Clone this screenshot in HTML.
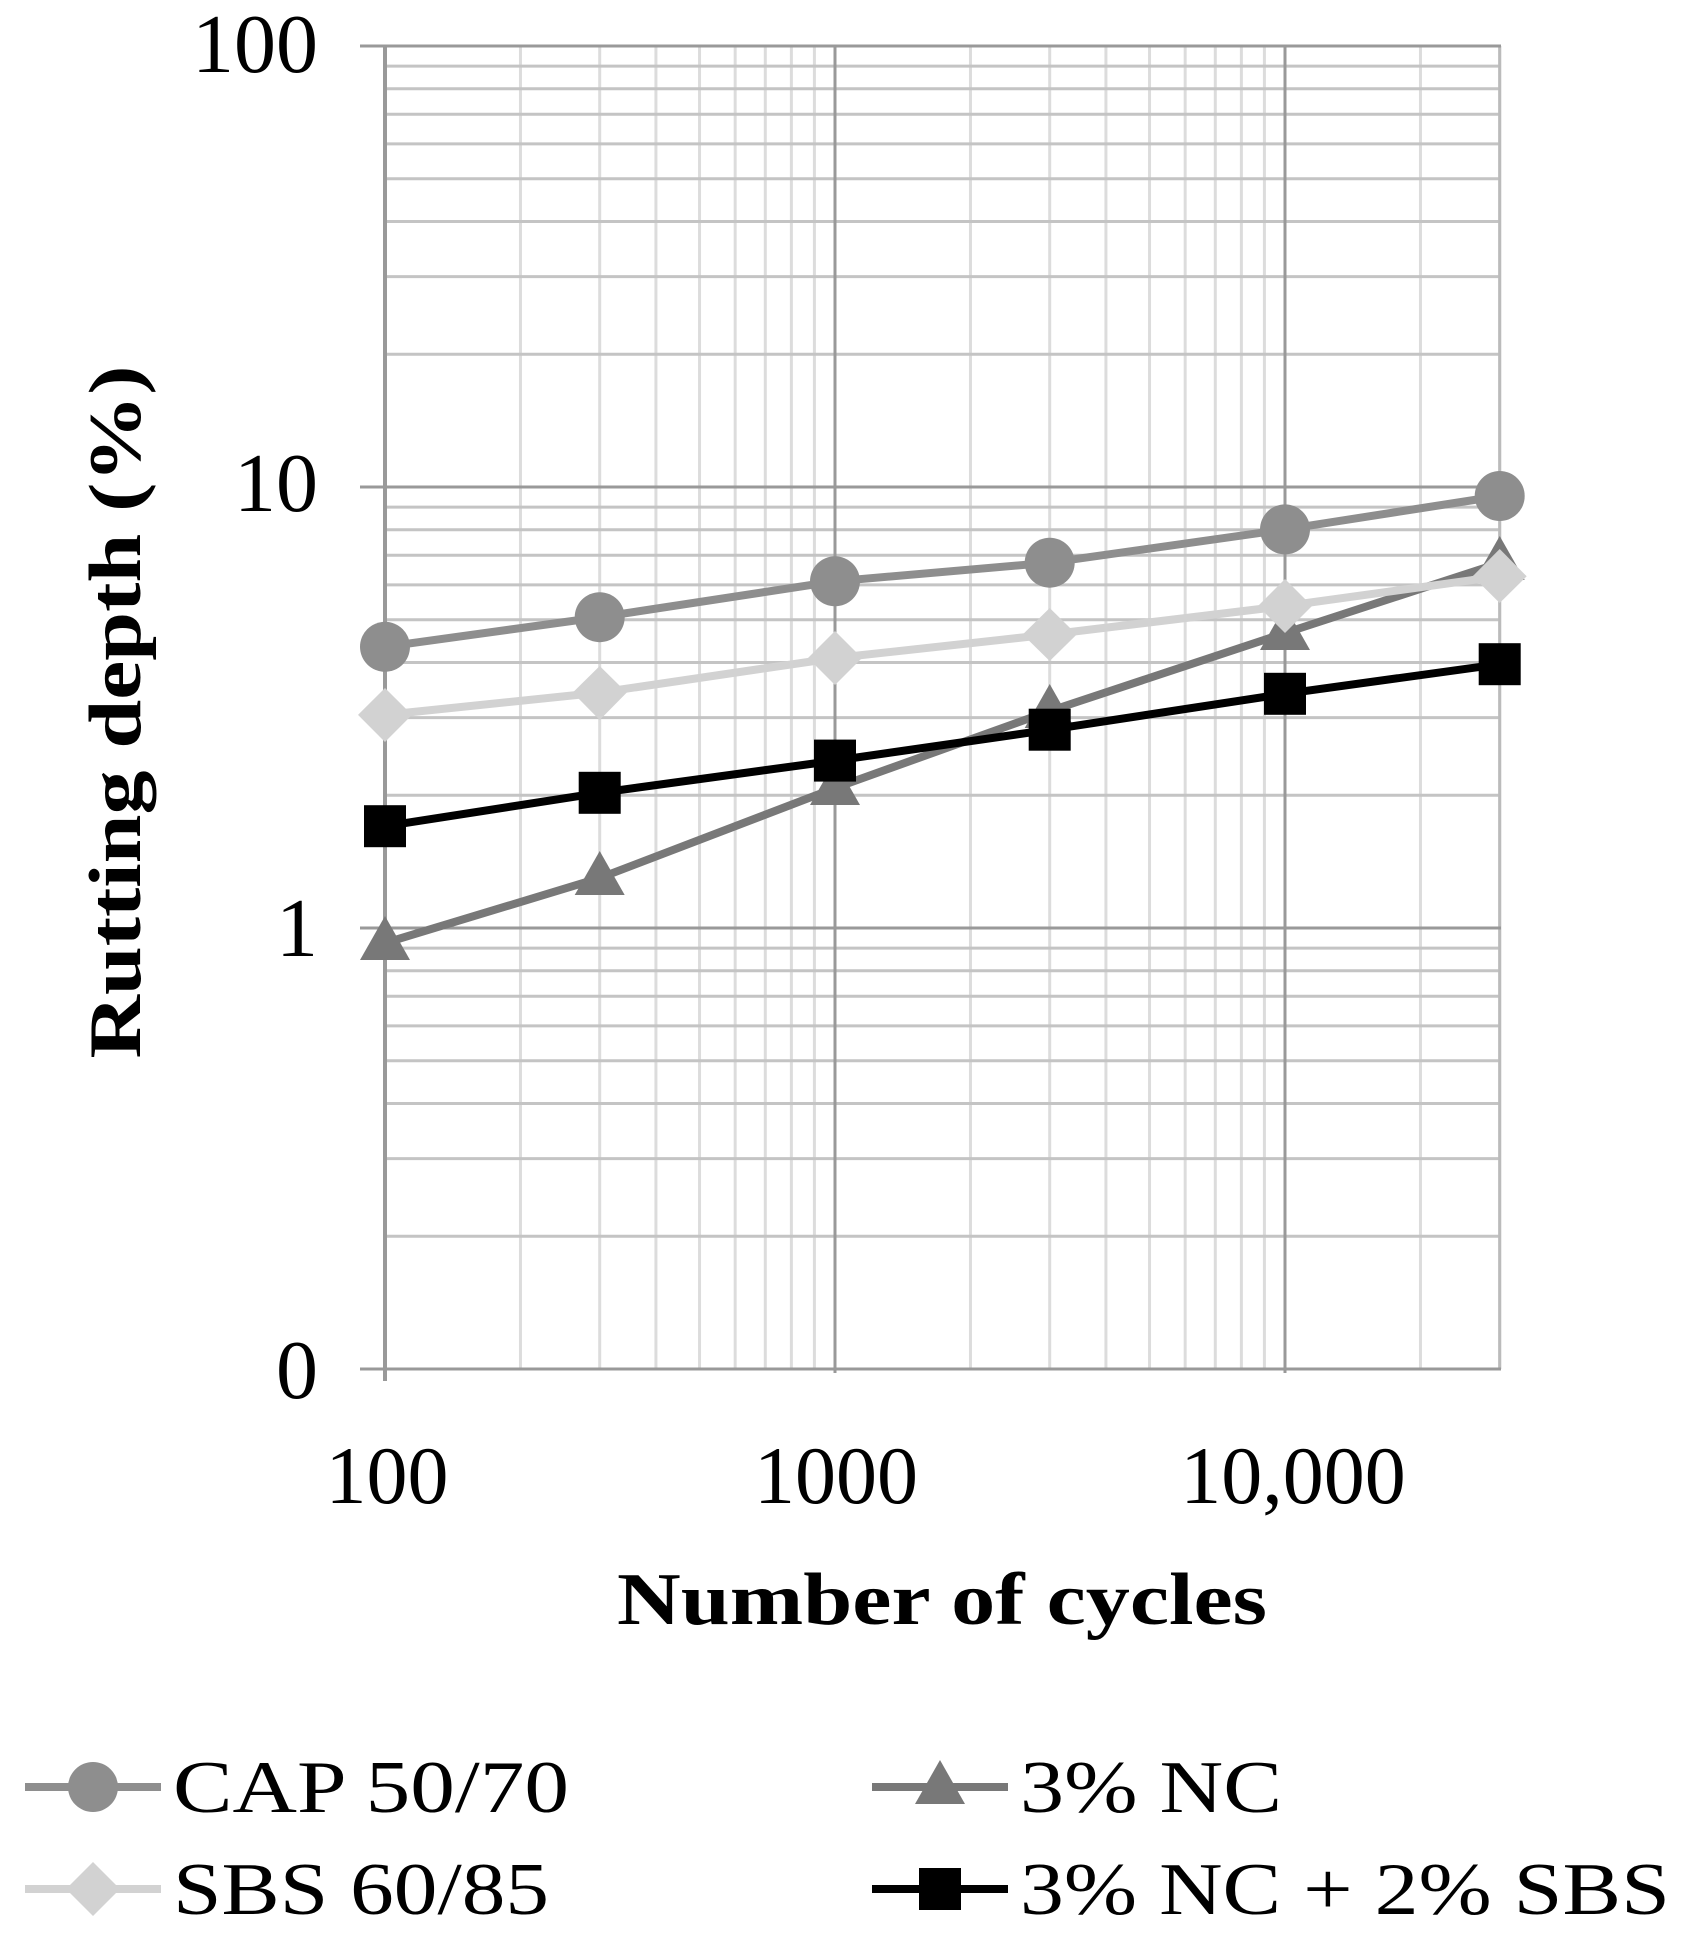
<!DOCTYPE html>
<html><head><meta charset="utf-8"><style>html,body{margin:0;padding:0;background:#fff}svg{display:block}</style></head>
<body>
<svg width="1682" height="1934" viewBox="0 0 1682 1934" xmlns="http://www.w3.org/2000/svg" font-family="Liberation Serif, serif">
<rect width="1682" height="1934" fill="#fff"/>
<g id="grid"></g>
<script>
(function(){
var g=document.getElementById('grid'),ns='http://www.w3.org/2000/svg';
function L(x1,y1,x2,y2,c,w){var l=document.createElementNS(ns,'line');l.setAttribute('x1',x1);l.setAttribute('y1',y1);l.setAttribute('x2',x2);l.setAttribute('y2',y2);l.setAttribute('stroke',c);l.setAttribute('stroke-width',w);g.appendChild(l);}
function X(v){return 385+450*(Math.log10(v)-2);}
function Y(v){return 928-441*Math.log10(v);}
var x0=385,x1=1501,y0=46,y1=1369;
for(var d=100;d<=10000;d*=10){for(var k=2;k<=9;k++){var v=d*k;if(v>30000)break;L(X(v),y0,X(v),y1,'#dcdcdc',3);}}
for(var d=0.1;d<=10;d*=10){for(var k=2;k<=9;k++){L(x0,Y(d*k),x1,Y(d*k),'#c4c4c4',3);}}
[1000,10000].forEach(function(v){L(X(v),y0,X(v),y1+4,'#999',3);});
L(X(30000),y0,X(30000),y1,'#bbb',3);
[100,10,1].forEach(function(v){L(360,Y(v),x1,Y(v),'#999',3);});
L(360,y1,x1,y1,'#999',3);
L(x0,y0,x0,y1+12,'#999',4);
})();
</script>
<polyline points="385,943 599.7,878 835,788 1049.7,711 1285,633 1499.7,563" fill="none" stroke="#787878" stroke-width="8"/>
<g fill="#787878">
<polygon points="385,916 410,960 360,960"/><polygon points="599.7,851 624.7,895 574.7,895"/><polygon points="835,761 860,805 810,805"/><polygon points="1049.7,684 1074.7,728 1024.7,728"/><polygon points="1285,606 1310,650 1260,650"/><polygon points="1499.7,536 1524.7,580 1474.7,580"/>
</g>
<polyline points="385,646.8 599.7,617.2 835,581.3 1049.7,562.7 1285,529.4 1499.7,496" fill="none" stroke="#8e8e8e" stroke-width="8"/>
<g fill="#8e8e8e">
<circle cx="385" cy="646.8" r="25"/><circle cx="599.7" cy="617.2" r="25"/><circle cx="835" cy="581.3" r="25"/><circle cx="1049.7" cy="562.7" r="25"/><circle cx="1285" cy="529.4" r="25"/><circle cx="1499.7" cy="496" r="25"/>
</g>
<polyline points="385,714.9 599.7,692.6 835,658 1049.7,634.5 1285,606 1499.7,576.3" fill="none" stroke="#d2d2d2" stroke-width="8"/>
<g fill="#d2d2d2">
<polygon points="385,688 412,714.9 385,742 358,714.9"/><polygon points="599.7,666 626.7,692.6 599.7,720 572.7,692.6"/><polygon points="835,631 862,658 835,685 808,658"/><polygon points="1049.7,608 1076.7,634.5 1049.7,661 1022.7,634.5"/><polygon points="1285,579 1312,606 1285,633 1258,606"/><polygon points="1499.7,549 1526.7,576.3 1499.7,603 1472.7,576.3"/>
</g>
<polyline points="385,826.2 599.7,792.8 835,760.6 1049.7,729.7 1285,693.8 1499.7,664.2" fill="none" stroke="#000" stroke-width="8"/>
<g fill="#000">
<rect x="364" y="805.2" width="42" height="42"/><rect x="578.7" y="771.8" width="42" height="42"/><rect x="814" y="739.6" width="42" height="42"/><rect x="1028.7" y="708.7" width="42" height="42"/><rect x="1264" y="672.8" width="42" height="42"/><rect x="1478.7" y="643.2" width="42" height="42"/>
</g>
<g font-size="84" fill="#000" text-anchor="end">
<text x="318" y="72">100</text><text x="318" y="511">10</text><text x="318" y="956">1</text><text x="318" y="1398">0</text>
</g>
<g font-size="82" fill="#000" text-anchor="middle">
<text x="387" y="1503">100</text><text x="836" y="1503">1000</text><text x="1293" y="1503">10,000</text>
</g>
<text x="942" y="1624" text-anchor="middle" font-size="74" font-weight="bold" textLength="650" lengthAdjust="spacingAndGlyphs">Number of cycles</text>
<text transform="translate(140,712) rotate(-90)" text-anchor="middle" font-size="74" font-weight="bold" textLength="693" lengthAdjust="spacingAndGlyphs">Rutting depth (%)</text>
<line x1="25" y1="1787" x2="161" y2="1787" stroke="#8e8e8e" stroke-width="8"/><circle cx="93" cy="1787" r="25" fill="#8e8e8e"/>
<text x="173" y="1812" font-size="74" textLength="396" lengthAdjust="spacingAndGlyphs">CAP 50/70</text>
<line x1="25" y1="1889" x2="161" y2="1889" stroke="#d2d2d2" stroke-width="8"/><polygon points="93,1862 120,1889 93,1916 66,1889" fill="#d2d2d2"/>
<text x="173" y="1914" font-size="74" textLength="376" lengthAdjust="spacingAndGlyphs">SBS 60/85</text>
<line x1="872" y1="1787" x2="1008" y2="1787" stroke="#787878" stroke-width="8"/><polygon points="940,1760 965,1804 915,1804" fill="#787878"/>
<text x="1020" y="1812" font-size="74" textLength="262" lengthAdjust="spacingAndGlyphs">3% NC</text>
<line x1="872" y1="1889" x2="1008" y2="1889" stroke="#000" stroke-width="8"/><rect x="919" y="1868" width="42" height="42" fill="#000"/>
<text x="1020" y="1914" font-size="74" textLength="650" lengthAdjust="spacingAndGlyphs">3% NC + 2% SBS</text>
</svg>
</body></html>
